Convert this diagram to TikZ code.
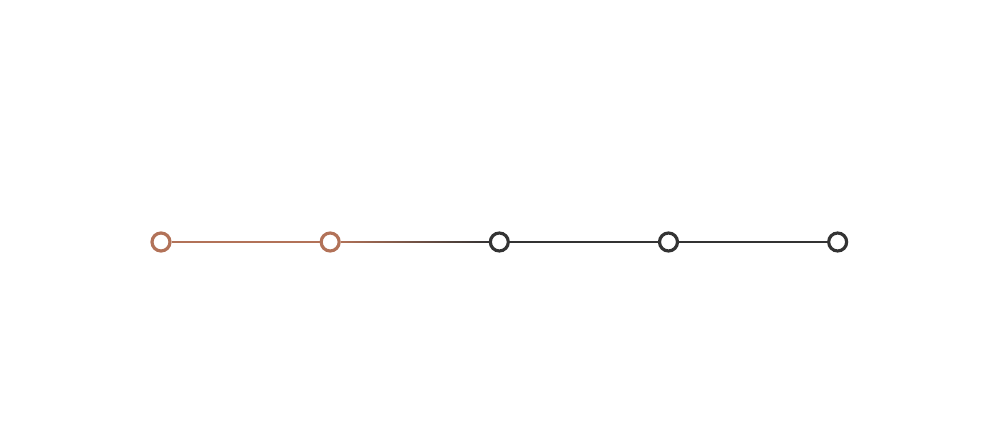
\documentclass[tikz,border=0pt]{standalone}
\usepackage{tikz}
\usetikzlibrary{positioning, calc, fadings}
\usepackage{xcolor}
\definecolor{cDone}{RGB}{178, 114, 88}
\definecolor{cTodo}{RGB}{51, 51, 51}

\begin{document}
\begin{tikzpicture}[
    node distance=4.44cm,
    stepnode/.style={
        circle,
        draw=#1,
        line width=2.7pt,
        fill=white,
        minimum size=0.54cm,
        inner sep=0pt
    },
    link/.style={line width=2.5pt, color=#1}
]

\useasboundingbox (0,0) rectangle (30,12.84);

% progress steps
\node[stepnode=cDone] (s1) at (4.83, 5.58) {};
\node[stepnode=cDone, right=of s1] (s2) {};
\node[stepnode=cTodo, right=of s2] (s3) {};
\node[stepnode=cTodo, right=of s3] (s4) {};
\node[stepnode=cTodo, right=of s4] (s5) {};

\draw[link=cDone] (s1) -- (s2);
% fading link between done and open steps
\draw[link=cDone] (s2) -- (s3);
\draw[link=cTodo, path fading=west] (s2) -- (s3);
\draw[link=cTodo] (s3) -- (s4);
\draw[link=cTodo] (s4) -- (s5);

\end{tikzpicture}
\end{document}
